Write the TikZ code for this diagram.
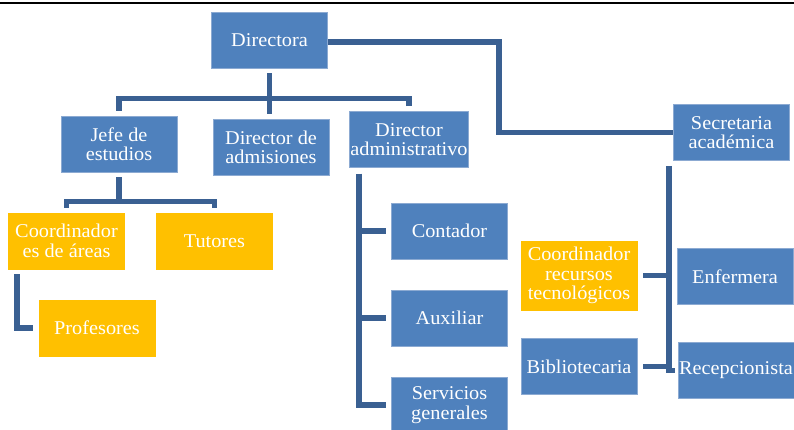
\documentclass[tikz,border=0pt]{standalone}
\usepackage{fontspec}
\setmainfont[FakeStretch=1.04]{Liberation Serif}
\usetikzlibrary{calc}
\usetikzlibrary{positioning}
\definecolor{boxblue}{RGB}{79,129,189}
\definecolor{boxedge}{RGB}{140,170,210}
\definecolor{boxgold}{RGB}{255,192,0}
\definecolor{linkblue}{RGB}{58,96,146}
\tikzstyle{orgnode} = [draw=boxedge, line width=0.8pt, fill=boxblue, text=white, minimum width=116pt, minimum height=56pt, inner sep=1pt, align=center, font=\fontsize{19.5}{19.5}\selectfont]
\tikzstyle{goldnode} = [orgnode, draw=boxgold, fill=boxgold]
\tikzstyle{link} = [draw=linkblue, line width=5.5pt]

\begin{document}
\begin{tikzpicture}[x=1pt, y=-1pt]
    \useasboundingbox (0,0) rectangle (794,429);
    \draw[line width=2.5pt] (0,3) -- (794,3);

    \node[orgnode] (dir_main) at (269.5,40) {Directora};
    \node[orgnode] (jefe_est) at ($(dir_main)+(-150.5,104)$) {Jefe de\\estudios};
    \node[orgnode] (dir_adm) at ($(dir_main)+(1.5,107.5)$) {Director de\\admisiones};
    \node[orgnode] (dir_admin) at ($(dir_main)+(139.5,99.5)$) {Director\\administrativo};
    \node[orgnode] (sec_acad) at ($(dir_main)+(462,92.5)$) {Secretaria\\académica};

    \node[goldnode] (coord_areas) at ($(jefe_est)+(-52.5,97)$) {Coordinador\\es de áreas};
    \node[goldnode] (tutores) at ($(jefe_est)+(95.5,97)$) {Tutores};
    \node[goldnode] (profesores) at ($(coord_areas)+(30.5,87)$) {Profesores};

    \node[orgnode] (contador) at ($(dir_admin)+(40.5,91.5)$) {Contador};
    \node[orgnode] (auxiliar) at ($(contador)+(0,87)$) {Auxiliar};
    \node[orgnode] (servicios) at ($(contador)+(0,174)$) {Servicios\\generales};

    \node[goldnode, minimum height=69pt] (coord_rec) at ($(sec_acad)+(-152.5,143)$) {Coordinador\\recursos\\tecnológicos};
    \node[orgnode] (biblio) at ($(coord_rec)+(0,91)$) {Bibliotecaria};
    \node[orgnode] (enfermera) at ($(sec_acad)+(3.5,144)$) {Enfermera};
    \node[orgnode] (recep) at ($(sec_acad)+(4.5,238)$) {Recepcionista};

    \draw[link] ($(dir_main.east)+(0,2)$) -- ++(171,0) |- (sec_acad.west);

    \draw[link, shorten <=5pt] (jefe_est.north) |- ($(dir_main.south)+(0,30)$);
    \draw[link, shorten <=5pt] (dir_admin.north) |- ($(dir_main.south)+(0,30)$);
    \draw[link, shorten <=5pt, shorten >=5pt] (dir_main.south) -- (dir_main.south |- dir_adm.north);

    \draw[link, shorten <=5pt] (coord_areas.north) |- ($(jefe_est.south)+(0,29)$);
    \draw[link, shorten <=5pt] (tutores.north) |- ($(jefe_est.south)+(0,29)$);
    \draw[link, shorten <=5pt] (jefe_est.south) -- ++(0,29);

    \coordinate (prof_hook) at ($(coord_areas.south west)+(9,0)$);
    \draw[link, shorten <=5pt, shorten >=6pt] (prof_hook) |- (profesores.west);

    \coordinate (admin_spine) at ($(dir_admin.south west)+(10,0)$);
    \foreach \n in {contador, auxiliar, servicios}
        \draw[link, shorten <=6pt, shorten >=5pt] (admin_spine) |- (\n.west);

    \coordinate (sec_spine) at ($(sec_acad.south west)+(-4,0)$);
    \draw[link, shorten <=5pt, shorten >=3pt] (sec_spine) |- (recep.west);
    \draw[link, shorten <=6pt] (coord_rec.east) -- (coord_rec.east -| sec_spine);
    \draw[link, shorten <=6pt] (biblio.east) -- (biblio.east -| sec_spine);
\end{tikzpicture}
\end{document}
